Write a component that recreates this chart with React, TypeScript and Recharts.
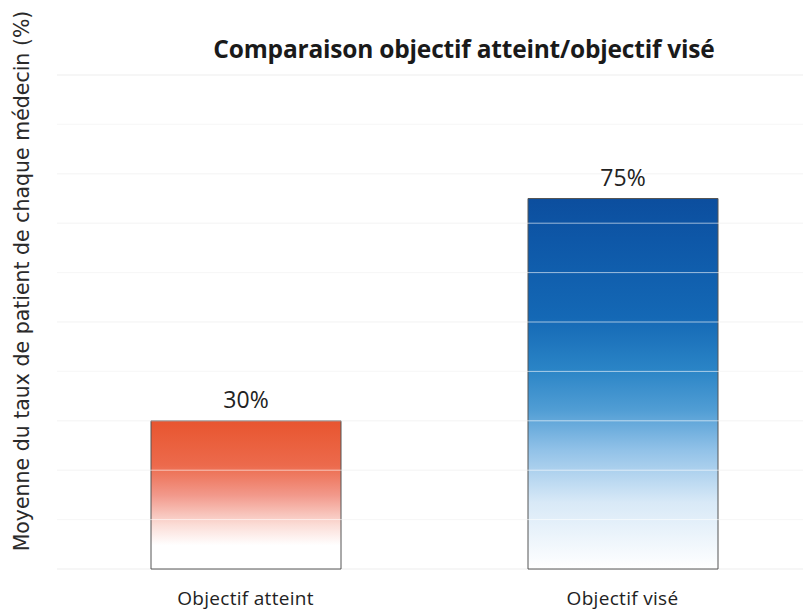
import { BarChart, Bar, XAxis, YAxis, CartesianGrid, Cell, LabelList, ReferenceLine } from "recharts"

const categories = ["Objectif atteint", "Objectif visé"]
const values = [30, 75]
const valueLabels = ["30%", "75%"]
const yTicks = [0, 10, 20, 30, 40, 50, 60, 70, 80, 90, 100]
const barFills = ["url(#gradRed)", "url(#gradBlue)"]

const data = categories.map((name, i) => ({ name, value: values[i], label: valueLabels[i] }))

export default function App() {
  return (
    <div style={{ position: "fixed", left: 0, top: 0, width: 803, height: 611, background: "#fff", overflow: "hidden" }}>
      <div
        style={{
          position: "absolute",
          left: 0,
          width: 928,
          top: 32,
          textAlign: "center",
          fontFamily: "'Open Sans', sans-serif",
          fontWeight: "bold",
          fontSize: 24.5,
          letterSpacing: -0.2,
          color: "#1a1a1a",
        }}
      >
        Comparaison objectif atteint/objectif visé
      </div>
      <div
        style={{
          position: "absolute",
          left: 22,
          top: 281,
          transform: "translate(-50%, -50%) rotate(-90deg)",
          whiteSpace: "nowrap",
          fontFamily: "'DejaVu Sans', sans-serif",
          fontSize: 20.5,
          color: "#2a2a2a",
        }}
      >
        Moyenne du taux de patient de chaque médecin (%)
      </div>
      <BarChart width={803} height={611} data={data} margin={{ top: 75, right: -8, bottom: 0, left: 57 }}>
        <defs>
          <linearGradient id="gradRed" x1="0" y1="0" x2="0" y2="1">
            <stop offset="0%" stopColor="#e8552f" />
            <stop offset="30%" stopColor="#ec6a4c" />
            <stop offset="50%" stopColor="#f2988a" />
            <stop offset="70%" stopColor="#fbdcd6" />
            <stop offset="84%" stopColor="#ffffff" />
            <stop offset="100%" stopColor="#ffffff" />
          </linearGradient>
          <linearGradient id="gradBlue" x1="0" y1="0" x2="0" y2="1">
            <stop offset="0%" stopColor="#0c4e9e" />
            <stop offset="12%" stopColor="#0e58a8" />
            <stop offset="32%" stopColor="#1468b5" />
            <stop offset="46%" stopColor="#2a84c6" />
            <stop offset="57%" stopColor="#509dd4" />
            <stop offset="68%" stopColor="#92c2e8" />
            <stop offset="82%" stopColor="#d8e9f7" />
            <stop offset="100%" stopColor="#ffffff" />
          </linearGradient>
        </defs>
        <CartesianGrid vertical={false} stroke="#ededed" />
        <XAxis
          dataKey="name"
          axisLine={false}
          tickLine={false}
          height={42}
          tickMargin={17}
          tick={{ fontFamily: "'Open Sans', sans-serif", fontSize: 19, fill: "#222", letterSpacing: 0.3 }}
        />
        <YAxis hide domain={[0, 100]} ticks={yTicks} />
        <Bar dataKey="value" barSize={190} stroke="#555" strokeWidth={1} isAnimationActive={false}>
          {data.map((d, i) => (
            <Cell key={d.name} fill={barFills[i]} />
          ))}
          <LabelList
            dataKey="label"
            position="top"
            offset={13}
            style={{ fontFamily: "'Open Sans', sans-serif", fontSize: 23, fill: "#222" }}
          />
        </Bar>
        {yTicks.slice(1, -1).map((t) => (
          <ReferenceLine key={t} y={t} stroke="#ffffff" strokeOpacity={0.6} />
        ))}
      </BarChart>
    </div>
  )
}
